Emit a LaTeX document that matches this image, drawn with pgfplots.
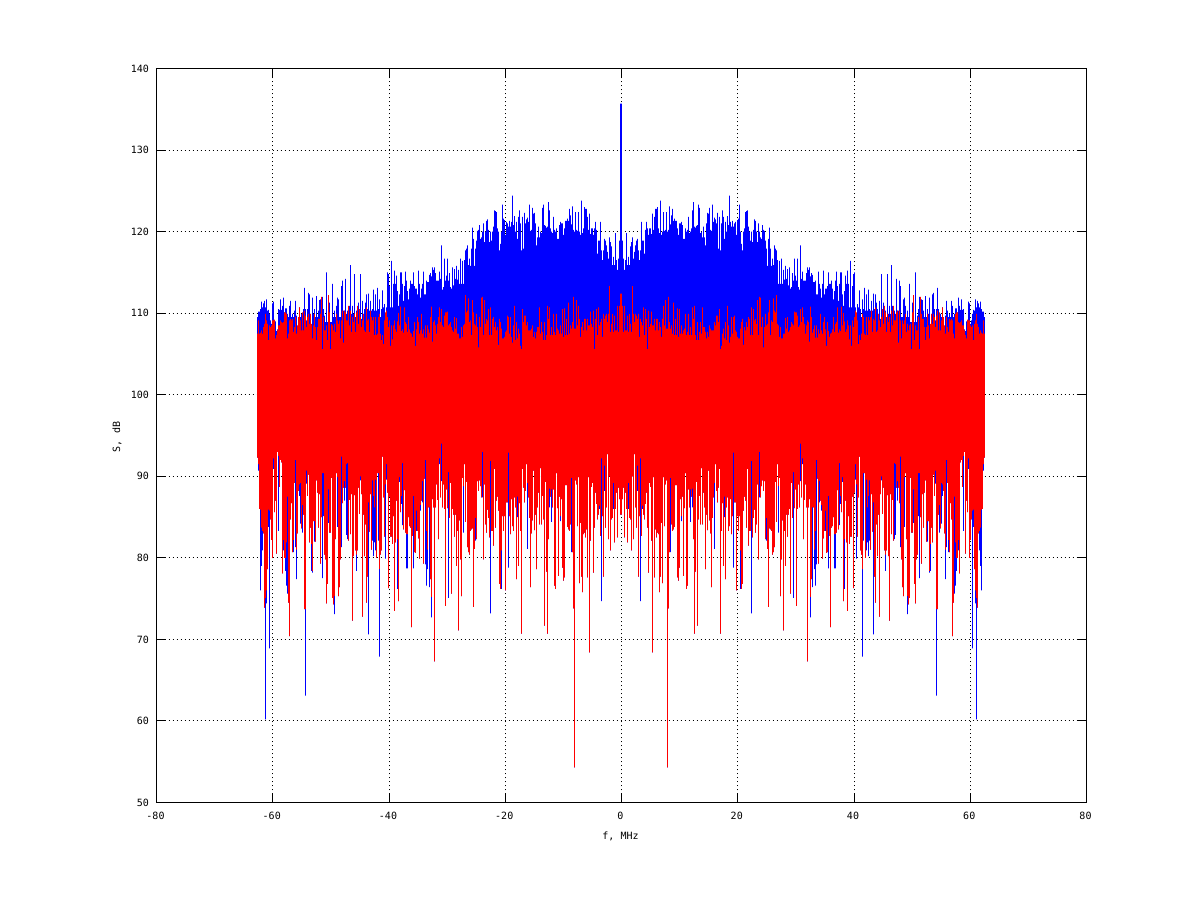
\documentclass[border=0pt]{standalone}
\usepackage{fontspec}
\setmainfont{DejaVu Sans Mono}
\usepackage{pgfplots}
\usepackage{pgfplotstable}
\pgfplotsset{compat=1.18}
\pgfplotstableread{
bhi rhi blo rlo
109.5 107.5 92.3 92.3
110.2 109.1 90.7 91.5
110.2 107.5 86 86
110.5 107.6 76 85.9
111.4 107.9 79 83.7
110.7 107.5 80.9 83.3
111.2 108.3 83 83
111.5 108.7 73.9 73.9
110.7 109.9 60.2 75.1
111.7 109.1 74.4 76
110.3 108.7 78.6 78.6
110.4 106.7 83.8 85.9
109.9 108.5 68.9 85.8
109.1 108.3 84.7 84.7
108.7 108.5 82.2 82.2
111.2 109.1 80 80
111.4 109.1 90.9 92.2
109.1 109.2 85.6 85.6
109 106.9 87 87
107.8 107.3 80.5 80.5
108 107.9 93 93
110.5 108.5 83.3 92.5
110.4 108.5 88.7 88.7
111.7 109.1 92 92
110.4 108.9 91.7 91.7
110.9 108.8 78.1 78.1
111.9 108.9 80.9 82.2
110.1 110.1 80 80
110.6 110.1 78.4 80
110.6 109.9 76.6 81.9
109.9 106.9 75.6 87.5
109.5 107.5 74.5 74.5
110.9 109.1 70.4 70.4
111.5 109.3 84.7 84.7
109.5 109.1 86.7 86.7
109.9 109.3 80.7 80.7
109.5 107.7 80.7 82.2
110.3 108.3 89.2 89.2
111.5 109.5 81.3 92
109.7 107.5 77.4 81
108.4 108.5 83 83
109.5 109.5 88.2 88.2
110.7 110.7 87.6 89
109.5 109.1 84.2 89.2
109.9 107.9 83.6 83.6
109.5 110.1 83.1 86.5
110.5 107.9 85.3 85.3
113.1 110.3 73.7 73.7
110.5 109.7 63.1 73.7
109.1 108.3 89.1 90.7
110.5 109.5 87.6 87.6
112.5 109.9 90.2 90.2
112.3 108.7 81.9 81.9
109.9 109.9 83.7 83.7
108.2 108.7 78.4 81.7
111.9 106.9 78.2 78.4
109.9 108.5 84.5 84.5
110.5 109.9 82 84.5
109.5 108.3 82 82
112.1 106.7 89.5 89.5
109.5 108.3 88 88
110.3 109.3 83.7 83.7
111.6 109.3 87.8 87.8
111.7 109.9 79.3 79.3
110.5 112 85 85
112 105.6 77.5 90.4
110.5 109.5 85.1 90.4
109.7 107.9 80.4 80.4
108.9 107.9 79.8 79.8
115 108.5 74.4 74.4
108.9 106.7 76.8 76.8
112.1 112.2 84.3 88.4
111.3 110.1 83.1 83.1
108.9 105.6 83.1 83.1
108.9 108.7 89.8 89.8
113.6 108.5 75.1 75.1
109.5 107.9 74.3 74.3
110.3 108.7 73.1 75.3
109.5 107.7 82.3 82.3
110.9 109.9 90.4 90.4
111.9 109.1 83.8 89.9
111.7 108.7 75.3 75.3
109.5 109.1 76.4 76.4
109.5 106.9 79.8 79.8
113.3 109.1 81.3 92.4
114 110.3 86.7 86.7
110.3 106.4 88.6 88.6
110.3 110.3 87 89.4
114.2 110.1 88.6 88.6
109.9 109.1 82.8 91.5
110.3 109.1 82.3 91.6
109.5 110.9 82.1 82.1
110.9 108.5 87.1 87.1
115.9 110.3 82.9 82.9
109.9 107.7 87.8 87.8
110.9 109.5 72.3 72.3
109.9 108.9 80.2 80.2
114.8 109.9 87.7 87.7
109.5 107.7 80.9 80.9
110.3 110.1 78.4 80.4
109.3 110.9 80.9 80.9
111.3 108.7 88.6 88.6
110.1 110.5 85.4 85.4
114.8 109.5 89.5 90
109.3 108.3 87.8 87.8
111.5 109.1 72.8 72.8
109.9 109.9 85.3 85.3
110.5 107.9 80.2 80.2
111.3 107.7 84.1 84.1
112.3 110.7 74.5 74.5
110.5 109.1 77.7 77.7
112.4 109.3 70.6 86.8
110.3 107.7 83.2 83.2
111.5 110.3 87.8 87.8
110.3 109.5 81 81
110.5 109.1 82.1 89.5
112.9 109.5 80.2 87.6
110.3 107.3 81.9 86.2
112.3 109.5 80.9 89.6
110.3 107.3 80 80
113.1 107.5 90.4 90.4
110.5 109.5 82.1 90.4
111.7 109.9 67.9 78.6
109.5 107.5 80.4 80.4
110.5 106.7 80.9 80.9
112.8 107.3 92.4 92.4
110.7 106.2 87.4 87.4
111.1 109.1 82.6 82.6
109.9 110.1 79.9 89
110.7 110.3 89.6 91.5
115 109.5 88 88
114.8 108.3 76.3 76.3
113.3 109.1 87.5 87.5
110.7 106 82.6 82.6
116.4 108.5 82.6 82.6
110.7 106.8 81.7 81.7
113.6 108.5 85.1 85.1
115.2 109.1 73.5 73.5
113.6 108 81.9 81.9
114.6 107.7 87 87
112.7 109 76.2 82.3
110.9 110 74.7 74.7
112.3 108.5 89.3 89.9
115 110.8 85.6 85.6
115 107.8 86.6 87.6
113.6 108 84 91.6
111.5 107.6 83.5 83.5
113.3 110.7 88.3 88.3
115.1 108.9 83.1 83.1
114 108.7 78.7 82.9
112.7 107.7 78.7 82.9
111.7 109.5 85 85
113 108 83.9 83.9
114 107.6 83.7 83.7
113.6 107.5 71.5 71.5
113.6 107.1 82.7 82.7
115 107.8 78.7 87.6
113.3 108.9 80.7 80.7
113 106 80.6 80.6
113 108 83.3 85.8
112.3 109.5 83.3 83.3
115.2 108.9 82.4 82.4
113.6 107.5 79.9 79.9
111.9 107.9 85.8 86.5
113 109.9 87 87
113.6 107.5 86.8 89.4
115.1 108 79.3 79.3
112.3 107 89.7 89.7
112.3 108.5 79.2 92
114 107 76.6 83.3
113.8 108.5 78.6 81
113.8 108 86.2 86.2
114.7 107.6 76.4 86.2
114.9 109.5 77.4 77.4
114.5 110.8 72.7 75.2
115.6 106.5 87.2 87.2
115.3 108.9 86.2 86.2
115.6 109.1 67.3 67.3
114.9 108.5 86.2 86.2
114 107.5 89 89
114 108.7 87.1 87.1
114 109.5 82.3 82.3
115.1 110.7 91.5 92.2
114.2 108.9 87.4 87.4
118.3 110.5 89.4 94
112.9 108.5 86.2 86.2
113.2 108.3 89 89
116.7 109.7 86 86
114 110.1 74.1 74.1
114.6 110.1 88.4 88.4
116.7 110.2 86.1 86.1
114 108.5 75.1 90.5
114.9 108.7 84.9 84.9
113.2 108.9 89.2 89.2
113 108.3 75.6 75.6
115.6 107.9 86 86
113.4 107.7 85.3 85.3
115.4 109.5 82.6 82.6
114.2 108.1 85.3 85.3
115.8 109.4 79 79
114.1 107.5 83.3 83.3
115.3 107.5 71.1 71.1
113.6 106.9 84.6 84.6
116.7 106.9 79.8 79.8
113.6 108.3 75.3 75.3
116.4 107.1 89.8 89.8
113.6 108.5 83.1 88.8
116.5 108.7 91.5 91.5
117.7 112.2 84.4 84.4
117.9 110.1 89.3 89.3
118.3 110.3 81.3 81.3
115.9 111.8 80.7 80.7
116.7 108.9 80.4 80.4
115.8 109.1 83.3 83.3
117.9 107.3 83.5 83.5
120.5 111.6 83.6 83.6
119.1 110.1 74 74
115.8 108.7 81.1 81.1
117.9 108.5 82.1 84.9
118.9 109.9 82.3 82.3
120.1 108.3 89.4 89.4
120.2 105.8 88.2 88.2
120.8 109.5 89.5 89.5
119.1 108.3 88.8 88.8
119.3 111.9 87.4 87.4
120 112 87.4 93
121 107.3 79.8 79.8
118.7 111.6 89 89
120 108.7 84.1 84.1
121.3 109.3 83.1 83.1
121.5 109.1 85.9 85.9
120.2 110.5 84.9 84.9
118.7 107.3 82.5 82.5
120 110.7 73.2 91.9
118.9 107.3 83.3 83.3
120 109.3 83.3 83.3
120.6 109.5 81.5 81.5
122.6 108.3 90.9 90.9
122.5 108.9 83.7 83.7
122.4 107.9 87 87
120.4 108.3 87.5 87.5
120 106.1 85.8 85.8
117.7 109.3 76.8 76.8
118.5 108.9 76.2 76.2
120 108.1 76.2 80.9
123.3 106.9 85.1 85.1
121.6 106.9 83.3 83.3
121.4 107.1 85.1 85.1
119.6 107.7 76 76
121.2 107.9 86.8 86.8
121 109.7 86.8 86.8
120.6 109.5 78.8 92.9
121.3 107.5 85.1 85.1
120.6 109.5 82.9 82.9
121.2 107.1 87.2 87.2
124.4 106.4 83.9 83.9
120.8 108.5 83.3 83.3
121.9 110.9 87.4 87.4
120 106.7 86.2 86.2
121.2 108.9 77.4 77.4
119.1 106.9 85 87.5
121.8 108.1 79 79
122.6 107.5 86.7 86.7
121 106 83.3 83.3
117.7 105.6 70.7 70.7
121.8 110.5 90.9 90.9
117.9 108.9 88.6 88.6
122.3 109.7 86.8 86.8
121 109.7 88.2 88.2
121.5 108.5 91.5 91.5
121.7 108.9 81.1 89.2
121.2 107.9 87.4 87.4
123.3 107.9 84.9 84.9
120.1 107.9 76.4 76.4
120.2 108.1 83 83
122.9 108.5 84.6 84.6
122.2 107.1 90.7 90.7
122.3 107.7 83.4 83.4
121 106.9 85.3 85.3
118.3 107.7 78.6 78.6
119.3 108.3 86.2 86.2
120.6 108.3 88 88
119.3 110.7 84.1 84.1
120 107.5 91 91
119.8 108.9 84.1 84.1
122.9 107.7 87.6 87.6
123.3 106.7 84.7 84.7
120.8 108.9 71.7 71.7
120.7 106.7 89.3 89.3
120.5 107.3 78.3 78.3
120.6 110.9 70.7 70.7
123.6 109.3 82.3 82.3
122.6 110.7 86.2 88.5
120.4 107.3 87.5 87.5
120 108.3 84.4 88.4
119.8 107.3 86.2 86.2
121.8 109.9 88.4 88.4
120.2 107.7 76.6 76.6
120 107.3 76.2 76.2
120.4 109.9 90.4 90.4
119.1 108.1 86.1 86.1
119.1 107.9 77.8 77.8
120.8 107.5 87.5 87.5
121.2 108.5 84.5 85.1
121 107.5 87.2 87.2
121 110.5 78.8 78.8
119.6 107.1 77.2 77.2
120.4 110.6 77.6 77.6
121.3 107.3 88.9 88.9
121.3 109.3 88.9 88.9
121.6 107.3 83.8 83.8
121.3 111.3 83.5 83.5
122.8 107.5 83.3 83.3
122 108.5 84.1 84.1
120.9 108.1 80.7 89.8
123.1 108.9 80.7 80.7
120.2 112 73.8 73.8
120 108.1 54.3 54.3
122.4 108.1 89.5 89.5
120.2 111.6 89 89
120.1 108.5 83.9 83.9
122.4 110.9 89.9 89.9
120 109.3 76.9 76.9
119.6 107.1 84.3 84.3
123.8 108.3 77.7 77.7
119.8 108.9 75.8 75.8
120.4 107.9 82.9 82.9
123 109.3 83.1 83.1
122.8 109.3 82.5 82.5
122.8 107.9 83.5 83.5
121.8 109.3 77.6 77.6
120.2 108.5 89.9 89.9
122.2 108.5 68.4 68.4
119.7 110.2 82.1 82.1
120.4 108.7 88.7 88.7
120.4 108.3 89.2 89.2
119.6 110.3 78.2 78.2
120.4 105.6 83.7 83.7
121.2 109.3 88 88
120.2 110.5 86.6 86.6
117.3 107.3 84.7 84.7
118.9 110.7 85.3 85.3
118.9 108.5 86 86.4
121.2 108.9 82.7 82.7
117.7 109.3 74.7 92.2
116.5 107.1 85.1 85.1
117.7 109.9 77.7 77.7
119.1 109.3 88.2 91.3
118.9 109.7 83.7 83.7
118.3 109.9 86.2 86.2
117.5 108.9 92.7 92.7
116.7 109.9 82.3 82.3
119.3 113.3 90 90
118.7 107.7 80.9 80.9
118.2 108.7 84.7 84.7
115.9 109.9 84.9 84.9
116.9 107.7 86 89.2
115.9 109.7 81.9 81.9
119.8 107.9 86 86
116.5 107.9 88 88
115.3 110.9 82.5 82.5
116.7 107.7 88.6 88.6
118.9 110.9 87.2 87.2
135.7 112.4 85.3 85.3
}\spec
\pgfplotstablegetrowsof{\spec}
\pgfmathtruncatemacro\lastrow{\pgfplotsretval-1}
% one vertical stroke per frequency bin, joined through y=100 (inside the solid body)
\newcommand\zig[4]{%
  \gdef#1{}%
  \foreach \i in {0,...,\lastrow}{%
    \pgfplotstablegetelem{\i}{#2}\of\spec \edef\h{\pgfplotsretval}%
    \pgfplotstablegetelem{\i}{#3}\of\spec \edef\l{\pgfplotsretval}%
    \pgfmathsetmacro\xx{#4}%
    \xdef#1{#1 (\xx,100) (\xx,\h) (\xx,\l) (\xx,100)}%
  }%
}
\zig\bl{bhi}{blo}{(\i-364)*0.17204}
\zig\br{bhi}{blo}{(363-\i)*0.17204}
\zig\rl{rhi}{rlo}{(\i-364)*0.17204}
\zig\rr{rhi}{rlo}{(363-\i)*0.17204}
\newcommand\neglab[1]{#1\hspace{7pt}}
\begin{document}
\begin{tikzpicture}[x=1pt,y=1pt]
\path[use as bounding box] (0,0) rectangle (1200,901);
\begin{axis}[
  at={(156.5pt,98.5pt)}, anchor=south west,
  scale only axis, width=930pt, height=734pt,
  xmin=-80, xmax=80, ymin=50, ymax=140,
  xtick={-80,-60,-40,-20,0,20,40,60,80},
  xticklabels={\neglab{-80},\neglab{-60},\neglab{-40},\neglab{-20},0,20,40,60,80},
  ytick={50,60,70,80,90,100,110,120,130,140},
  yticklabels={50,60,70,80,90,100,110,120,130,140},
  tick align=inside, major tick length=9pt,
  tick style={black, line width=1pt},
  axis line style={black, line width=1pt},
  grid=major,
  grid style={black, line width=1pt, dash pattern=on 1pt off 3pt},
  ticklabel style={font=\fontsize{10}{12}\selectfont},
  label style={font=\fontsize{10}{12}\selectfont},
  xticklabel style={yshift=-6pt, xshift=-1pt},
  yticklabel style={xshift=-4pt},
  xlabel={f, MHz}, ylabel={S, dB},
  xlabel style={at={(axis description cs:0.5,0)}, anchor=center, yshift=-34pt, xshift=-1pt},
  ylabel style={at={(axis description cs:0,0.5)}, anchor=center, yshift=39.5pt, xshift=-1.5pt},
  every axis plot/.append style={mark=none, line width=1.05pt, line join=bevel, forget plot},
]
\edef\tmp{\noexpand\addplot[blue] coordinates {\bl};}\tmp
\edef\tmp{\noexpand\addplot[blue] coordinates {\br};}\tmp
\edef\tmp{\noexpand\addplot[red] coordinates {\rl};}\tmp
\edef\tmp{\noexpand\addplot[red] coordinates {\rr};}\tmp
\end{axis}
\end{tikzpicture}
\end{document}
